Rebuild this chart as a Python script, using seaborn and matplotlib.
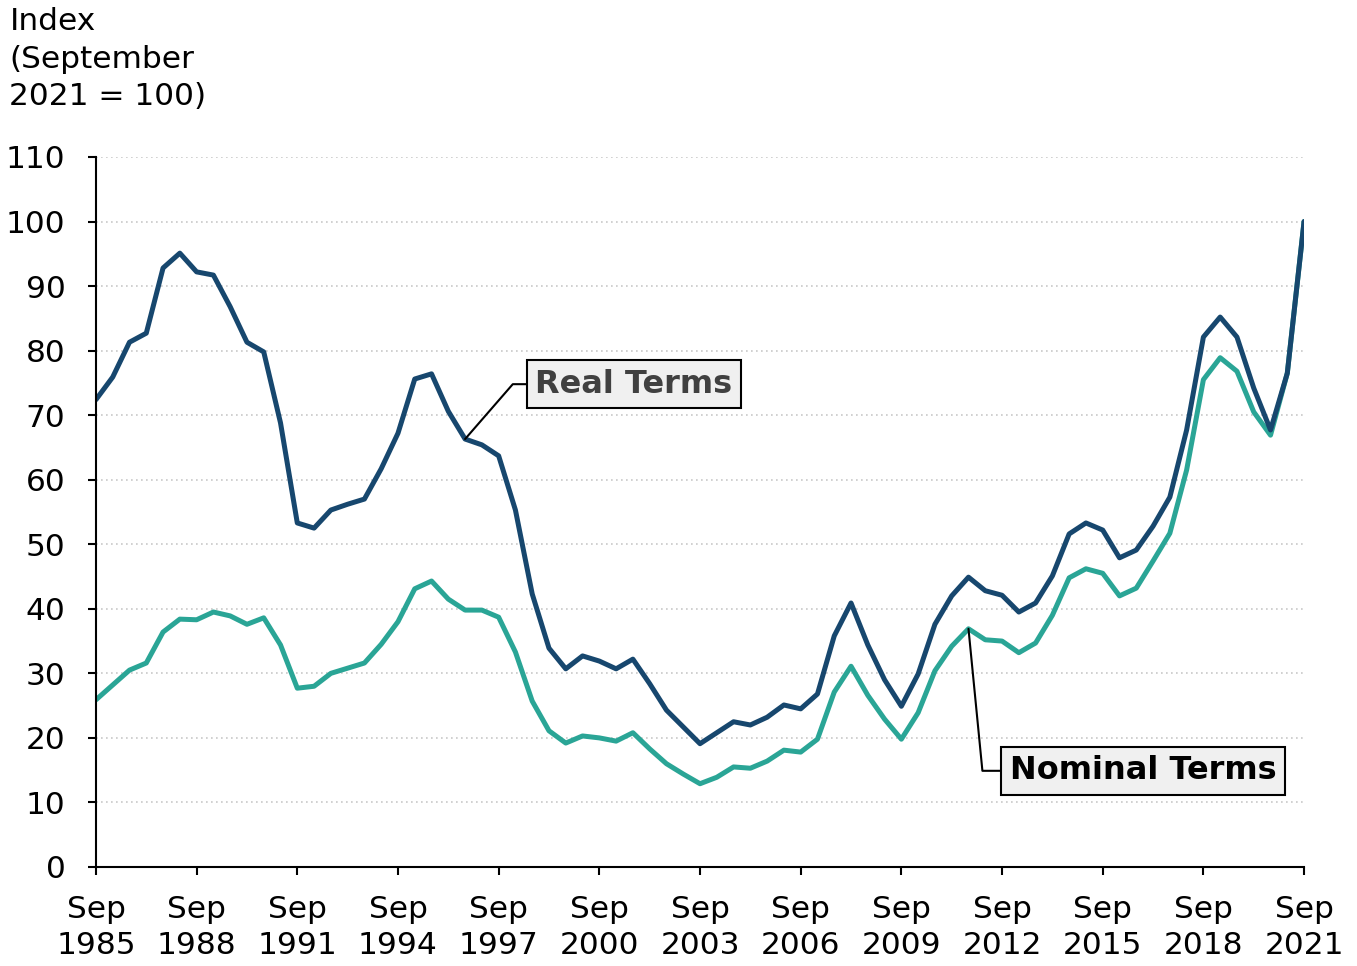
import numpy as np
import pandas as pd
import matplotlib
matplotlib.use('Agg')
import matplotlib.pyplot as plt
import seaborn as sns

# Half-yearly index values, Sep 1985 .. Sep 2021 (Sep 2021 = 100)
real_terms = [72.4, 75.9, 81.3, 82.7, 92.8, 95.1, 92.2, 91.7, 86.8, 81.3,
              79.8, 68.8, 53.3, 52.5, 55.3, 56.2, 57.0, 61.7, 67.2, 75.6,
              76.4, 70.6, 66.3, 65.4, 63.7, 55.3, 42.3, 33.9, 30.7, 32.7,
              31.9, 30.7, 32.2, 28.4, 24.3, 21.7, 19.1, 20.8, 22.5, 22.0,
              23.2, 25.1, 24.5, 26.8, 35.8, 40.9, 34.4, 29.0, 24.9, 29.9,
              37.6, 42.0, 44.9, 42.8, 42.1, 39.5, 40.9, 45.1, 51.6, 53.3,
              52.2, 47.9, 49.1, 52.8, 57.3, 67.7, 82.1, 85.2, 82.1, 74.2,
              67.7, 76.5, 100.0]
nominal_terms = [25.9, 28.2, 30.5, 31.6, 36.4, 38.4, 38.3, 39.5, 38.9, 37.6,
                 38.6, 34.4, 27.7, 28.0, 30.0, 30.8, 31.6, 34.5, 38.0, 43.1,
                 44.3, 41.5, 39.8, 39.8, 38.7, 33.3, 25.7, 21.1, 19.2, 20.3,
                 20.0, 19.5, 20.8, 18.3, 16.0, 14.4, 12.9, 13.9, 15.5, 15.3,
                 16.4, 18.1, 17.8, 19.8, 27.1, 31.1, 26.6, 22.9, 19.8, 23.9,
                 30.4, 34.2, 36.9, 35.2, 35.0, 33.2, 34.7, 39.0, 44.8, 46.2,
                 45.5, 42.0, 43.2, 47.4, 51.7, 61.5, 75.5, 78.9, 76.8, 70.5,
                 66.9, 76.5, 100.0]
tick_years = ['1985', '1988', '1991', '1994', '1997', '2000', '2003',
              '2006', '2009', '2012', '2015', '2018', '2021']

n = len(real_terms)
df = pd.DataFrame({
    'period': list(range(n)) * 2,
    'value': nominal_terms + real_terms,
    'series': ['Nominal Terms'] * n + ['Real Terms'] * n,
})

sns.set_style('white')
plt.rcParams['font.family'] = ['DejaVu Sans']
plt.rcParams['text.color'] = 'black'

fig = plt.figure(figsize=(13.57, 9.66), dpi=100)
ax = fig.add_axes([0.0707, 0.1025, 0.8903, 0.735])

palette = {'Nominal Terms': '#2aa596', 'Real Terms': '#17476e'}
sns.lineplot(data=df, x='period', y='value', hue='series', palette=palette,
             linewidth=3.6, legend=False, ax=ax)

ax.set_xlim(0, n - 1)
ax.set_ylim(0, 110)
ax.set_yticks(range(0, 111, 10))
ax.set_xticks(range(0, n, 6))
ax.set_xticklabels([f'Sep\n{y}' for y in tick_years], linespacing=1.3)
ax.tick_params(axis='both', labelsize=22.5, colors='black', length=6, width=1.5,
               direction='out', left=True, bottom=True)
ax.tick_params(axis='y', pad=16)
ax.tick_params(axis='x', pad=14)
ax.set_xlabel('')
ax.set_ylabel('')

ax.yaxis.grid(True, linestyle=(0, (1, 2)), color='#c8c8c8', linewidth=1.2)
ax.xaxis.grid(False)
for side in ['top', 'right']:
    ax.spines[side].set_visible(False)
for side in ['left', 'bottom']:
    ax.spines[side].set_color('black')
    ax.spines[side].set_linewidth(1.5)

fig.text(0.007, 0.993, 'Index\n(September\n2021 = 100)', ha='left', va='top',
         fontsize=22.5, linespacing=1.38, color='black')

ax.annotate('Real Terms', xy=(22, real_terms[22]), xytext=(32.06, 74.8),
            ha='center', va='center', fontsize=23, fontweight='bold', color='#404040',
            bbox=dict(boxstyle='square,pad=0.27', fc='#f0f0f0', ec='black', lw=1.5),
            arrowprops=dict(arrowstyle='-', color='black', lw=1.5, shrinkA=0, shrinkB=0,
                            connectionstyle='angle,angleA=0,angleB=49,rad=0'))
ax.annotate('Nominal Terms', xy=(52, nominal_terms[52]), xytext=(62.4, 14.9),
            ha='center', va='center', fontsize=23, fontweight='bold', color='black',
            bbox=dict(boxstyle='square,pad=0.27', fc='#f0f0f0', ec='black', lw=1.5),
            arrowprops=dict(arrowstyle='-', color='black', lw=1.5, shrinkA=0, shrinkB=0,
                            connectionstyle='angle,angleA=0,angleB=95.6,rad=0'))

fig.savefig('out.png', dpi=100)
